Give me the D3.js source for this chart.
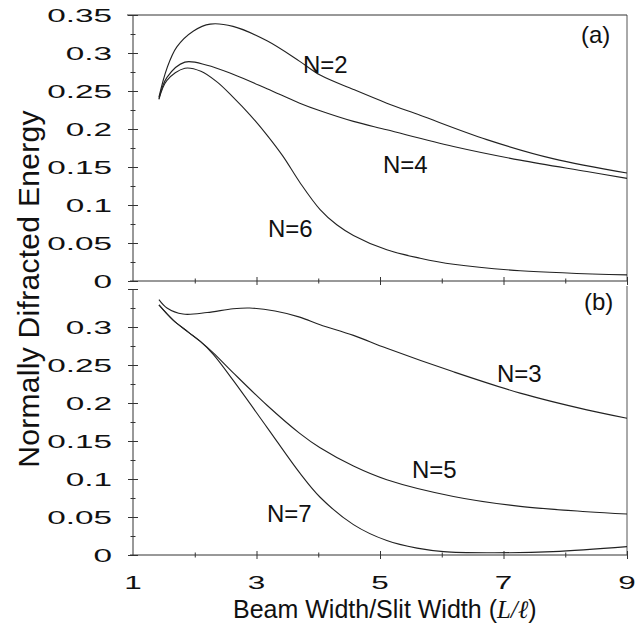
<!DOCTYPE html>
<html>
<head>
<meta charset="utf-8">
<script src="https://cdnjs.cloudflare.com/ajax/libs/d3/7.8.5/d3.min.js"></script>
<style>
  body { margin: 0; background: #fff; }
  svg text { font-family: "Liberation Sans", Arial, sans-serif; fill: #111; }
</style>
</head>
<body>
<svg id="chart" width="642" height="628"></svg>
<script>
// ---- data ----
var xMajor = [1, 3, 5, 7, 9];
var xMinor = [2, 4, 6, 8];
var yMajor = [0, 0.05, 0.1, 0.15, 0.2, 0.25, 0.3, 0.35];
var yMinor = [0.025, 0.075, 0.125, 0.175, 0.225, 0.275, 0.325];
var yTickLabels = ["0", "0.05", "0.1", "0.15", "0.2", "0.25", "0.3", "0.35"];

// panel (a)
var curveN2 = [[1.42,0.242],[1.55,0.28],[1.71,0.308],[1.98,0.329],[2.25,0.338],[2.62,0.335],
  [3.17,0.316],[3.70,0.289],[4.03,0.271],[4.57,0.252],[5.11,0.234],[5.65,0.218],[6.73,0.186],
  [7.80,0.161],[9,0.142]];
var curveN4 = [[1.42,0.24],[1.55,0.268],[1.84,0.288],[2.2,0.284],[2.62,0.272],[3.17,0.253],
  [3.70,0.234],[4.03,0.224],[4.57,0.21],[5.11,0.199],[6.19,0.177],[7.27,0.159],[8.35,0.144],[9,0.135]];
var curveN6 = [[1.42,0.239],[1.55,0.264],[1.84,0.28],[2.1,0.276],[2.36,0.262],[2.62,0.242],
  [2.89,0.219],[3.17,0.192],[3.43,0.164],[3.70,0.13],[4.03,0.094],[4.30,0.074],[4.57,0.06],
  [5.11,0.041],[5.65,0.03],[6.19,0.022],[7.27,0.0135],[9,0.008]];

// panel (b)
var curveN3 = [[1.42,0.336],[1.55,0.325],[1.81,0.317],[2.2,0.319],[2.62,0.324],[2.89,0.325],
  [3.3,0.321],[3.70,0.313],[4.03,0.303],[4.57,0.289],[5.11,0.272],[6.19,0.241],[7.27,0.213],
  [8.35,0.191],[9,0.18]];
var curveN5 = [[1.42,0.329],[1.65,0.309],[1.9,0.293],[2.09,0.281],[2.30,0.266],[2.62,0.24],
  [3.17,0.197],[3.70,0.16],[4.03,0.141],[4.57,0.117],[5.11,0.099],[6.19,0.077],[7.27,0.064],
  [8.35,0.057],[9,0.054]];
var curveN7 = [[1.42,0.329],[1.65,0.309],[1.9,0.293],[2.09,0.281],[2.30,0.264],[2.62,0.23],
  [3.17,0.168],[3.70,0.108],[4.03,0.076],[4.57,0.04],[5.11,0.019],[5.6,0.009],[6.03,0.0045],
  [6.73,0.003],[7.80,0.0045],[9,0.011]];

var panels = [
  { name: "(a)", top: 15, bottom: 281, frameTop: true,
    series: [curveN2, curveN4, curveN6],
    labels: [["N=2", 303, 73], ["N=4", 383, 173], ["N=6", 268, 237]],
    tag: [581, 43], tickLabelsX: false },
  { name: "(b)", top: 289, bottom: 555, frameTop: false,
    series: [curveN3, curveN5, curveN7],
    labels: [["N=3", 497, 382], ["N=5", 412, 478], ["N=7", 267, 522]],
    tag: [584, 310], tickLabelsX: true }
];

var svg = d3.select("#chart");
var x = d3.scaleLinear().domain([1, 9]).range([133, 627]);
var axisColor = "#333";

function styleAxis(g) {
  g.select(".domain").remove();
  g.selectAll(".tick line").attr("stroke", axisColor).attr("stroke-width", 1);
  g.selectAll(".tick text").remove();
}

panels.forEach(function(p) {
  var y = d3.scaleLinear().domain([0, 0.35]).range([p.bottom, p.top]);
  var g = svg.append("g");

  // frame lines
  g.append("line").attr("x1", x(1)).attr("x2", x(1)).attr("y1", p.top).attr("y2", p.bottom)
    .attr("stroke", axisColor);
  g.append("line").attr("x1", x(1) - 3).attr("x2", x(9)).attr("y1", p.bottom).attr("y2", p.bottom)
    .attr("stroke", axisColor);
  g.append("line").attr("x1", x(9)).attr("x2", x(9)).attr("y1", p.frameTop ? p.top : p.top - 3).attr("y2", p.bottom)
    .attr("stroke", "#555");
  if (p.frameTop) {
    g.append("line").attr("x1", x(1) - 6).attr("x2", x(9)).attr("y1", p.top).attr("y2", p.top)
      .attr("stroke", axisColor);
  }

  // y ticks, crossing the axis line
  g.append("g").attr("transform", "translate(" + x(1) + ",0)")
    .call(d3.axisLeft(y).tickValues(yMajor).tickSize(5).tickSizeOuter(0)).call(styleAxis);
  g.append("g").attr("transform", "translate(" + x(1) + ",0)")
    .call(d3.axisRight(y).tickValues(yMajor).tickSize(5).tickSizeOuter(0)).call(styleAxis);
  g.append("g").attr("transform", "translate(" + x(1) + ",0)")
    .call(d3.axisLeft(y).tickValues(yMinor).tickSize(2.5).tickSizeOuter(0)).call(styleAxis);
  g.append("g").attr("transform", "translate(" + x(1) + ",0)")
    .call(d3.axisRight(y).tickValues(yMinor).tickSize(2.5).tickSizeOuter(0)).call(styleAxis);

  // x ticks, crossing the axis line
  g.append("g").attr("transform", "translate(0," + p.bottom + ")")
    .call(d3.axisBottom(x).tickValues(xMajor.slice(1)).tickSize(4).tickSizeOuter(0)).call(styleAxis);
  g.append("g").attr("transform", "translate(0," + p.bottom + ")")
    .call(d3.axisTop(x).tickValues(xMajor.slice(1)).tickSize(4).tickSizeOuter(0)).call(styleAxis);
  g.append("g").attr("transform", "translate(0," + p.bottom + ")")
    .call(d3.axisBottom(x).tickValues(xMinor).tickSize(2.5).tickSizeOuter(0)).call(styleAxis);
  g.append("g").attr("transform", "translate(0," + p.bottom + ")")
    .call(d3.axisTop(x).tickValues(xMinor).tickSize(2.5).tickSizeOuter(0)).call(styleAxis);

  // y tick labels (wide, stretched lettering as in the original)
  var labelValues = p.frameTop ? yMajor : yMajor.slice(0, 7);
  labelValues.forEach(function(v, i) {
    g.append("text")
      .attr("transform", "translate(112," + y(v) + ") scale(1.8,1)")
      .attr("text-anchor", "end")
      .attr("dy", "0.36em")
      .style("font-size", "18.5px")
      .text(yTickLabels[i]);
  });

  if (p.tickLabelsX) {
    xMajor.forEach(function(v) {
      g.append("text")
        .attr("transform", "translate(" + x(v) + ",589) scale(1.7,1)")
        .attr("text-anchor", "middle")
        .style("font-size", "18.5px")
        .text(v);
    });
  }

  // curves
  var line = d3.line()
    .x(function(d) { return x(d[0]); })
    .y(function(d) { return y(d[1]); })
    .curve(d3.curveCatmullRom.alpha(0.5));
  p.series.forEach(function(s) {
    g.append("path").datum(s).attr("d", line)
      .attr("fill", "none").attr("stroke", "#222").attr("stroke-width", 1.1);
  });

  p.labels.forEach(function(l) {
    g.append("text").attr("x", l[1]).attr("y", l[2]).style("font-size", "24px").text(l[0]);
  });
  g.append("text").attr("x", p.tag[0]).attr("y", p.tag[1]).style("font-size", "24px").text(p.name);
});

// axis titles
svg.append("text")
  .attr("transform", "translate(39,289) rotate(-90)")
  .attr("text-anchor", "middle")
  .style("font-size", "30px")
  .style("letter-spacing", "0.3px")
  .text("Normally Difracted Energy");

var xt = svg.append("text").attr("x", 233).attr("y", 618).style("font-size", "25px");
xt.append("tspan").text("Beam Width/Slit Width (");
xt.append("tspan").style("font-family", "'Liberation Serif', 'DejaVu Serif', serif").style("font-style", "italic").text("L/ℓ");
xt.append("tspan").text(")");
</script>
</body>
</html>
